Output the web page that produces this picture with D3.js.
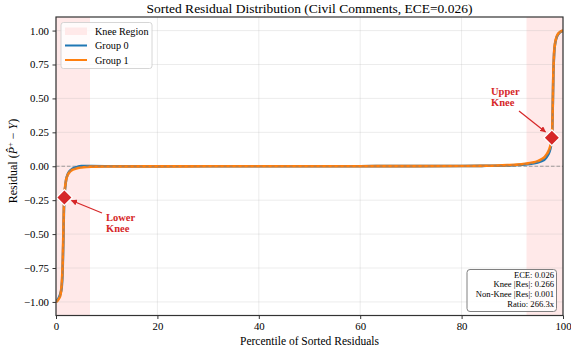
<!DOCTYPE html>
<html>
<head>
<meta charset="utf-8">
<script src="https://cdn.jsdelivr.net/npm/d3@7"></script>
<style>
  html, body { margin: 0; padding: 0; background: #fff; }
  svg { display: block; font-family: "Liberation Serif", "Times New Roman", serif; }
</style>
</head>
<body>
<svg id="chart" width="571" height="354"></svg>
<script>
// Percentile positions of the sorted residuals
const percentiles = [0, 0.3, 0.6, 0.9, 1.1, 1.3, 1.45, 1.55, 1.65, 1.8, 2.0, 2.3, 2.7, 3.2, 4, 5, 6, 7, 10, 20, 30, 40, 50, 60, 70, 80, 84, 87, 89, 91, 92.5, 94, 95, 95.8, 96.4, 96.9, 97.3, 97.6, 97.8, 97.9, 98.0, 98.1, 98.25, 98.45, 98.7, 99.0, 99.4, 100];

// Sorted residuals per group
const group0 = [-1.0, -0.985, -0.965, -0.935, -0.9, -0.78, -0.55, -0.34, -0.23, -0.16, -0.1, -0.06, -0.035, -0.02, -0.008, 0.0015, 0.002, 0.001, 0.0, -0.001, 0.0, 0.0, 0.0, 0.0005, 0.001, 0.002, 0.003, 0.004, 0.006, 0.009, 0.013, 0.02, 0.028, 0.038, 0.052, 0.075, 0.105, 0.145, 0.2, 0.29, 0.48, 0.68, 0.83, 0.905, 0.945, 0.97, 0.987, 0.998];
const group1 = [-1.0, -0.99, -0.975, -0.945, -0.88, -0.74, -0.5, -0.3, -0.21, -0.15, -0.1, -0.065, -0.042, -0.027, -0.016, -0.009, -0.005, -0.003, -0.002, -0.001, -0.0005, 0.0, 0.0, 0.0005, 0.001, 0.002, 0.003, 0.005, 0.008, 0.012, 0.018, 0.027, 0.038, 0.052, 0.07, 0.095, 0.125, 0.165, 0.21, 0.3, 0.5, 0.7, 0.84, 0.91, 0.95, 0.975, 0.99, 1.0];
const overall = [-1.0, -0.988, -0.97, -0.94, -0.89, -0.76, -0.52, -0.32, -0.22, -0.155, -0.1, -0.062, -0.038, -0.022, -0.011, -0.003, -0.001, -0.0005, -0.001, -0.001, 0.0, 0.0, 0.0, 0.0005, 0.001, 0.002, 0.003, 0.0045, 0.007, 0.0105, 0.0155, 0.0235, 0.033, 0.045, 0.061, 0.085, 0.115, 0.155, 0.205, 0.295, 0.49, 0.69, 0.835, 0.908, 0.948, 0.972, 0.988, 0.999];

// Knee regions (percentile ranges) and detected knee points
const kneeRegions = [[0, 6.7], [92.8, 100]];
const kneePoints = [
  { name: "Lower\nKnee", p: 1.65, r: -0.23 },
  { name: "Upper\nKnee", p: 97.8, r: 0.21 }
];

// Axis ticks
const xTicks = [0, 20, 40, 60, 80, 100];
const yTicks = [-1.0, -0.75, -0.5, -0.25, 0.0, 0.25, 0.5, 0.75, 1.0];

// Summary statistics
const statsLines = ["ECE: 0.026", "Knee |Res|: 0.266", "Non-Knee |Res|: 0.001", "Ratio: 266.3x"];

const colors = { g0: "#1f77b4", g1: "#ff7f0e", knee: "#d62728", shade: "#ffe9e9" };

const svg = d3.select("#chart");
const margin = { left: 56, right: 8, top: 17, bottom: 38.5 };
const W = 571, H = 354;
const x = d3.scaleLinear().domain([0, 100]).range([margin.left, W - margin.right]);
const y = d3.scaleLinear().domain([-1.1, 1.1]).range([H - margin.bottom, margin.top]);

const defs = svg.append("defs");
defs.append("clipPath").attr("id", "plotclip").append("rect")
  .attr("x", x(0)).attr("y", y(1.1)).attr("width", x(100) - x(0)).attr("height", y(-1.1) - y(1.1));
defs.append("marker").attr("id", "arrow").attr("viewBox", "0 0 10 10")
  .attr("refX", 9).attr("refY", 5).attr("markerWidth", 6).attr("markerHeight", 6)
  .attr("markerUnits", "userSpaceOnUse").attr("orient", "auto")
  .append("path").attr("d", "M0,0 L10,5 L0,10 z").attr("fill", colors.knee);

// Knee shading
svg.append("g").selectAll("rect").data(kneeRegions).join("rect")
  .attr("x", d => x(d[0])).attr("width", d => x(d[1]) - x(d[0]))
  .attr("y", y(1.1)).attr("height", y(-1.1) - y(1.1))
  .attr("fill", colors.shade);

// Grid
const grid = svg.append("g").attr("stroke", "#b0b0b0").attr("stroke-opacity", 0.3).attr("stroke-width", 0.8);
grid.selectAll(".gx").data(xTicks).join("line")
  .attr("x1", d => x(d)).attr("x2", d => x(d)).attr("y1", y(1.1)).attr("y2", y(-1.1));
grid.selectAll(".gy").data(yTicks).join("line")
  .attr("y1", d => y(d)).attr("y2", d => y(d)).attr("x1", x(0)).attr("x2", x(100));

// Zero reference line
svg.append("line").attr("x1", x(0)).attr("x2", x(100)).attr("y1", y(0)).attr("y2", y(0))
  .attr("stroke", "#808080").attr("stroke-width", 0.9).attr("stroke-dasharray", "3.5,2").attr("opacity", 0.8);

// Curves
const plot = svg.append("g").attr("clip-path", "url(#plotclip)");
const line = vals => d3.line().x((d, i) => x(percentiles[i])).y(d => y(d)).curve(d3.curveMonotoneX)(vals);
plot.append("path").attr("d", line(group0)).attr("fill", "none")
  .attr("stroke", colors.g0).attr("stroke-width", 2.6).attr("stroke-linejoin", "round");
plot.append("path").attr("d", line(group1)).attr("fill", "none")
  .attr("stroke", colors.g1).attr("stroke-width", 2.6).attr("stroke-linejoin", "round");
plot.append("path").attr("d", line(overall)).attr("fill", "none")
  .attr("stroke", "#7f7f7f").attr("stroke-width", 1.1).attr("stroke-dasharray", "3,3").attr("opacity", 0.6);

// Knee markers
svg.append("g").selectAll("path").data(kneePoints).join("path")
  .attr("d", d3.symbol().type(d3.symbolSquare).size(125))
  .attr("transform", d => `translate(${x(d.p)},${y(d.r)}) rotate(45)`)
  .attr("fill", colors.knee).attr("stroke", "#fff").attr("stroke-width", 1.3);

// Annotations
const annos = [
  { k: kneePoints[0], tx: 106, ty: 220.5, ax: 102, ay: 213, ex: 71.5, ey: 200.5 },
  { k: kneePoints[1], tx: 491, ty: 94.5, ax: 519, ay: 111, ex: 545.5, ey: 132 }
];
annos.forEach(a => {
  svg.append("line").attr("x1", a.ax).attr("y1", a.ay).attr("x2", a.ex).attr("y2", a.ey)
    .attr("stroke", colors.knee).attr("stroke-width", 1.2).attr("marker-end", "url(#arrow)");
  const t = svg.append("text").attr("x", a.tx).attr("y", a.ty)
    .attr("fill", colors.knee).attr("font-weight", "bold").attr("font-size", 10.5);
  a.k.name.split("\n").forEach((s, i) => t.append("tspan").attr("x", a.tx).attr("dy", i ? 11 : 0).text(s));
});

// Axes
const xAxis = svg.append("g").attr("transform", `translate(0,${y(-1.1)})`)
  .call(d3.axisBottom(x).tickValues(xTicks).tickFormat(d3.format("d")).tickSize(3.5).tickPadding(3.5));
const yAxis = svg.append("g").attr("transform", `translate(${x(0)},0)`)
  .call(d3.axisLeft(y).tickValues(yTicks).tickFormat(d => d3.format(".2f")(d).replace("-", "\u2212")).tickSize(3.5).tickPadding(3.5));
[xAxis, yAxis].forEach(g => {
  g.select(".domain").remove();
  g.selectAll("text").attr("font-family", "Liberation Serif, serif").attr("font-size", 10.8).attr("fill", "#000");
  g.selectAll("line").attr("stroke", "#000").attr("stroke-width", 0.8);
});

// Frame
svg.append("rect").attr("x", x(0)).attr("y", y(1.1)).attr("width", x(100) - x(0)).attr("height", y(-1.1) - y(1.1))
  .attr("fill", "none").attr("stroke", "#333").attr("stroke-width", 1.2);

// Titles
svg.append("text").attr("x", (x(0) + x(100)) / 2).attr("y", 12.5).attr("text-anchor", "middle")
  .attr("font-size", 13.5).text("Sorted Residual Distribution (Civil Comments, ECE=0.026)");
svg.append("text").attr("x", (x(0) + x(100)) / 2).attr("y", 345).attr("text-anchor", "middle")
  .attr("font-size", 11.5).text("Percentile of Sorted Residuals");
const yl = svg.append("text").attr("transform", `translate(17,161) rotate(-90)`)
  .attr("text-anchor", "middle").attr("font-size", 12);
yl.append("tspan").text("Residual (");
yl.append("tspan").attr("font-style", "italic").text("P\u0302");
yl.append("tspan").attr("font-size", 8.5).attr("dy", -4.5).text("+");
yl.append("tspan").attr("dy", 4.5).text(" \u2212 ");
yl.append("tspan").attr("font-style", "italic").text("Y");
yl.append("tspan").text(")");

// Legend
const lg = svg.append("g");
lg.append("rect").attr("x", 61).attr("y", 22.5).attr("width", 91).attr("height", 46).attr("rx", 2.5)
  .attr("fill", "#fff").attr("fill-opacity", 0.8).attr("stroke", "#ccc").attr("stroke-width", 0.8);
const legendItems = [
  { label: "Knee Region", type: "patch", color: colors.shade },
  { label: "Group 0", type: "line", color: colors.g0 },
  { label: "Group 1", type: "line", color: colors.g1 }
];
legendItems.forEach((d, i) => {
  const cy = 31 + i * 14.5;
  if (d.type === "patch") {
    lg.append("rect").attr("x", 65).attr("y", cy - 3.5).attr("width", 22).attr("height", 7.5)
      .attr("fill", d.color);
  } else {
    lg.append("line").attr("x1", 65).attr("x2", 87).attr("y1", cy).attr("y2", cy)
      .attr("stroke", d.color).attr("stroke-width", 2);
  }
  lg.append("text").attr("x", 95).attr("y", cy + 3.5).attr("font-size", 10.2).text(d.label);
});

// Statistics box
const sb = svg.append("g");
sb.append("rect").attr("x", 467).attr("y", 269.5).attr("width", 89.5).attr("height", 42).attr("rx", 3)
  .attr("fill", "#fff").attr("fill-opacity", 0.8).attr("stroke", "#808080").attr("stroke-width", 1);
sb.selectAll("text").data(statsLines).join("text")
  .attr("x", 554).attr("y", (d, i) => 277.5 + i * 9.8).attr("text-anchor", "end")
  .attr("font-size", 8.6).text(d => d);
</script>
</body>
</html>
